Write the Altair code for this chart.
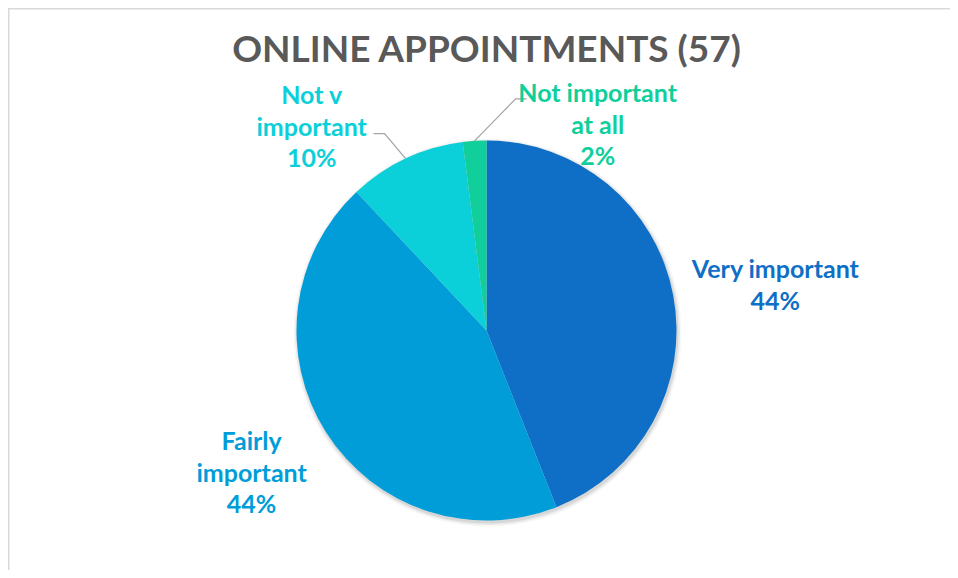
import math
import altair as alt
import pandas as pd

TITLE = "ONLINE APPOINTMENTS (57)"
categories = ["Very important", "Fairly important", "Not v important", "Not important at all"]
percents = [44, 44, 10, 2]
wrapped = ["Very important", "Fairly\nimportant", "Not v\nimportant", "Not important\nat all"]
colors = ["#0F6FC6", "#009DD9", "#0BD0D9", "#10CF9B"]

total = sum(percents)
df = pd.DataFrame({"category": categories, "pct": percents, "wrapped": wrapped})

W, H = 942, 562
CX, CY, R = 478.5, 322.5, 190
FONT = "Lato"
LFS = 25
LH = 31.5
TAU = 2 * math.pi

color = alt.Color("category:N", scale=alt.Scale(domain=categories, range=colors), legend=None)
theta_scale = alt.Scale(domain=[0, total], range=[0, TAU])

base = alt.Chart(df).transform_window(idx="row_number()")

# soft shadow rings
shadows = []
for rr, op in [(R + 4, 0.03), (R + 2.5, 0.05), (R + 1, 0.08)]:
    shadows.append(
        base.mark_arc(radius=rr, color="#000000", opacity=op).encode(
            theta=alt.Theta("pct:Q", stack=True, scale=theta_scale),
            order=alt.Order("idx:Q"),
            x=alt.value(CX + 1),
            y=alt.value(CY + 2),
        )
    )

pie = base.mark_arc(radius=R).encode(
    theta=alt.Theta("pct:Q", stack=True, scale=theta_scale),
    color=color,
    order=alt.Order("idx:Q"),
    x=alt.value(CX),
    y=alt.value(CY),
)

lab_base = (
    base.transform_window(cum="sum(pct)", sort=[alt.SortField("idx")], frame=[None, 0])
    .transform_calculate(
        mid="datum.cum - datum.pct / 2",
        label="datum.wrapped + '\\n' + datum.pct + '%'",
    )
)

# radial distance of each label block and its nudge (block centre)
label_layout = {
    "Very important": dict(radius=290, dx=4, dy=10, lines=2),
    "Fairly important": dict(radius=277, dx=-1, dy=-5, lines=3),
    "Not v important": dict(radius=225, dx=-79, dy=1, lines=3),
    "Not important at all": dict(radius=205, dx=124, dy=0, lines=3),
}

labels = []
for cat in categories:
    lay = label_layout[cat]
    labels.append(
        lab_base.transform_filter(alt.datum.category == cat)
        .mark_text(
            font=FONT, fontSize=LFS, fontWeight="bold", lineBreak="\n", lineHeight=LH,
            align="center", baseline="middle",
            radius=lay["radius"], dx=lay["dx"],
            dy=lay["dy"] - (lay["lines"] - 1) * LH / 2,
        )
        .encode(
            theta=alt.Theta("mid:Q", stack=None, scale=theta_scale),
            text="label:N",
            color=color,
            x=alt.value(CX),
            y=alt.value(CY),
        )
    )

# leader lines for the two small slices
leader_offsets = {
    "Not v important": [(-21, -25), (-11, 0)],
    "Not important at all": [(41, -42), (11, 0)],
}
rows = []
cum = 0
for cat, c in zip(categories, percents):
    mid = cum + c / 2
    cum += c
    if cat in leader_offsets:
        a = TAU * mid / total
        px, py = CX + R * math.sin(a), CY - R * math.cos(a)
        rows.append({"category": cat, "pt": 0, "px": px, "py": py})
        for k, (ox, oy) in enumerate(leader_offsets[cat]):
            px, py = px + ox, py + oy
            rows.append({"category": cat, "pt": k + 1, "px": px, "py": py})
leaders = alt.Chart(pd.DataFrame(rows)).mark_line(color="#A6A6A6", strokeWidth=1.3).encode(
    x=alt.X("px:Q", scale=None, axis=None),
    y=alt.Y("py:Q", scale=None, axis=None),
    detail="category:N",
    order="pt:Q",
)

title = alt.Chart(pd.DataFrame({"t": [TITLE]})).mark_text(
    font=FONT, fontSize=37, fontWeight="bold", color="#595959", align="center", baseline="middle"
).encode(text="t:N", x=alt.value(CX), y=alt.value(43))

# chart frame: only its top and left edges fall inside the picture
border = alt.Chart(pd.DataFrame({"t": [0]})).mark_rect(
    fill="transparent", stroke="#D9D9D9", strokeWidth=1.5
).encode(x=alt.value(0.75), y=alt.value(0.75), x2=alt.value(W + 60), y2=alt.value(H + 60))

chart = alt.layer(border, *shadows, pie, leaders, *labels, title).properties(
    width=W, height=H, autosize=alt.AutoSizeParams(type="none"), padding=0
).configure_view(strokeWidth=0, stroke="transparent")

chart.save("out.html", embed_options={"renderer": "svg", "actions": False})
